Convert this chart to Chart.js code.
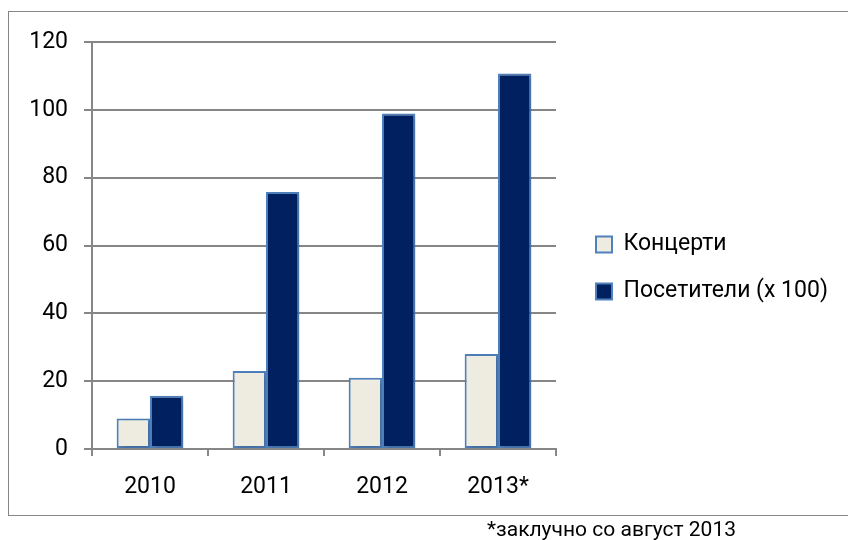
<!DOCTYPE html>
<html>
<head>
<meta charset="utf-8">
<script src="https://cdn.jsdelivr.net/npm/chart.js@4.4.1/dist/chart.umd.min.js"></script>
<style>
  body { margin: 0; background: #fff; }
  #wrap { position: relative; width: 848px; height: 540px; overflow: hidden; font-family: Roboto, "Noto Sans", sans-serif; }
  #frame { position: absolute; left: 8px; top: 11px; width: 860px; height: 503px; border: 1.5px solid #868686; }
  #chart { position: absolute; left: 0; top: 0; }
  #note { position: absolute; left: 487px; top: 519px; font-size: 21px; line-height: 1; color: #000; white-space: nowrap; }
</style>
</head>
<body>
<div id="wrap">
  <div id="frame"></div>
  <canvas id="chart" width="848" height="540"></canvas>
  <div id="note">*заклучно со август 2013</div>
</div>
<script>
// Concerts and visitors per year

const years = ['2010', '2011', '2012', '2013*'];
const concerts = [9, 23, 21, 28];
const visitors = [15.7, 75.8, 98.9, 110.7];
const yTicks = [0, 20, 40, 60, 80, 100, 120];

const gridGray = '#868686';
const FONT = { family: 'Roboto, "Noto Sans", sans-serif', size: 23 };

// soft shadow behind the bars, like the Excel original
const barShadow = {
  id: 'barShadow',
  beforeDatasetsDraw(chart) {
    const ctx = chart.ctx;
    ctx.save();
    ctx.shadowColor = 'rgba(0,0,0,0.22)';
    ctx.shadowBlur = 5;
    ctx.shadowOffsetX = 2;
    ctx.shadowOffsetY = 2;
  },
  afterDatasetsDraw(chart) {
    chart.ctx.restore();
  }
};

// put the legend where the original has it
const legendSpot = {
  id: 'legendSpot',
  afterLayout(chart) {
    const lg = chart.legend;
    const w = lg.width, h = lg.height;
    lg.left = 572; lg.right = lg.left + w;
    lg.top = 209; lg.bottom = lg.top + h;
  }
};

new Chart(document.getElementById('chart'), {
  type: 'bar',
  data: {
    labels: years,
    datasets: [
      { label: 'Концерти', data: concerts, backgroundColor: '#EEECE1', borderColor: '#4F81BD', borderWidth: 2, borderSkipped: false },
      { label: 'Посетители (х 100)', data: visitors, backgroundColor: '#00205F', borderColor: '#4F81BD', borderWidth: 2, borderSkipped: false }
    ]
  },
  options: {
    responsive: false,
    animation: false,
    layout: { padding: { left: 10, top: 42, right: 292, bottom: 25 } },
    datasets: { bar: { barPercentage: 1, categoryPercentage: 0.575 } },
    plugins: {
      tooltip: { enabled: false },
      legend: {
        position: 'chartArea',
        align: 'start',
        labels: { boxWidth: 16, boxHeight: 16, padding: 24, color: '#000', font: FONT }
      }
    },
    scales: {
      x: {
        grid: { display: true, drawOnChartArea: false, drawTicks: true, tickLength: 7, color: gridGray, lineWidth: 2 },
        border: { color: gridGray, width: 2 },
        ticks: { color: '#000', font: FONT, padding: 17 },
        afterFit: s => { s.height = 540 - 449 - 25; }
      },
      y: {
        min: 0,
        max: 120,
        afterBuildTicks: s => { s.ticks = yTicks.map(v => ({ value: v })); },
        grid: { color: gridGray, lineWidth: 2, tickLength: 8 },
        border: { color: gridGray, width: 2 },
        ticks: { color: '#000', font: FONT, padding: 16 },
        afterFit: s => { s.width = 92 - 10; }
      }
    }
  },
  plugins: [barShadow, legendSpot]
});
</script>
</body>
</html>
